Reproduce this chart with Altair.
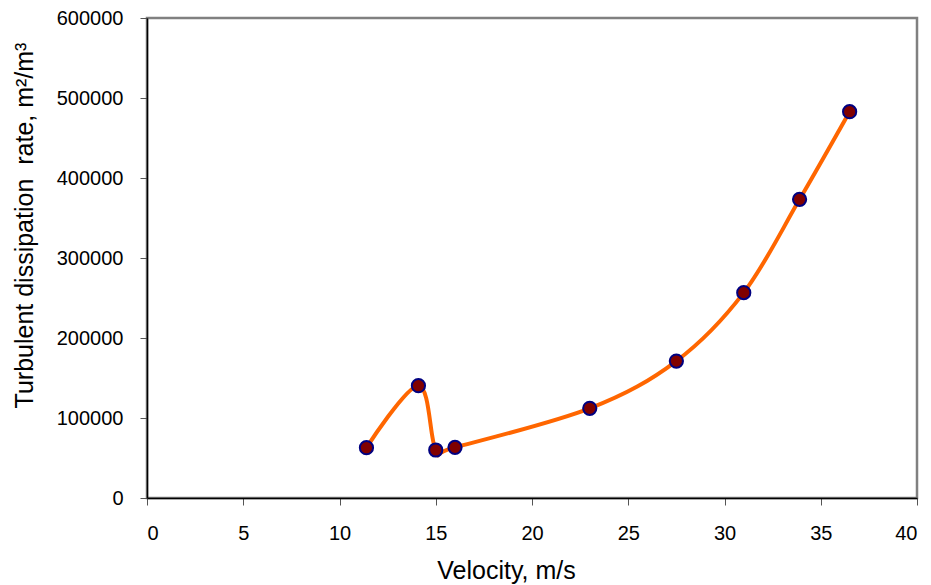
import altair as alt
import pandas as pd

velocity = [11.4, 14.1, 15.0, 16.0, 23.0, 27.5, 31.0, 33.9, 36.5]
dissipation = [62900, 140400, 60000, 63300, 112100, 171200, 256700, 373300, 482900]
x_ticks = [0, 5, 10, 15, 20, 25, 30, 35, 40]
y_ticks = [0, 100000, 200000, 300000, 400000, 500000, 600000]

df = pd.DataFrame({"v": velocity, "e": dissipation, "i": list(range(len(velocity)))})

FONT = "Liberation Sans"

x_enc = alt.X(
    "v:Q",
    scale=alt.Scale(domain=[0, 40], nice=False),
    axis=alt.Axis(
        title="Velocity, m/s",
        values=x_ticks,
        format="d",
        grid=False,
        domainColor="black",
        domainWidth=1.5,
        tickColor="#555555",
        tickSize=7,
        labelFontSize=20,
        labelPadding=18,
        labelColor="black",
        labelFont=FONT,
        titleFont=FONT,
        titleFontSize=25,
        titleFontWeight="normal",
        titleColor="black",
        titleX=359,
        titleY=80,
        titleBaseline="alphabetic",
        titleAnchor="middle",
        titleAlign="center",
    ),
)
y_enc = alt.Y(
    "e:Q",
    scale=alt.Scale(domain=[0, 600000], nice=False),
    axis=alt.Axis(
        title="Turbulent dissipation \u00a0rate, m²/m³",
        values=y_ticks,
        format="d",
        grid=False,
        domainColor="black",
        domainWidth=1.5,
        tickColor="#555555",
        tickSize=7,
        labelFontSize=20,
        labelPadding=17,
        labelColor="black",
        labelFont=FONT,
        titleFont=FONT,
        titleFontSize=25,
        titleFontWeight="normal",
        titleColor="black",
        titleX=-115,
        titleY=207,
        titleBaseline="alphabetic",
        titleAngle=270,
        titleAlign="center",
    ),
)

line = alt.Chart(df).mark_line(
    color="#FF6600", strokeWidth=4, interpolate="cardinal"
).encode(x=x_enc, y=y_enc, order="i:O")

points = alt.Chart(df).mark_point(
    filled=True, fill="#800000", stroke="#000080", strokeWidth=2, size=175, opacity=1
).encode(x="v:Q", y="e:Q")

chart = (
    alt.layer(line, points)
    .properties(
        width=770,
        height=480,
        padding={"left": 139, "top": 10, "right": 6, "bottom": 87},
        autosize=alt.AutoSizeParams(type="none"),
        background="white",
    )
    .configure_view(stroke="#808080", strokeWidth=2.5)
)

chart.save("out.html", embed_options={"renderer": "svg", "actions": False})
